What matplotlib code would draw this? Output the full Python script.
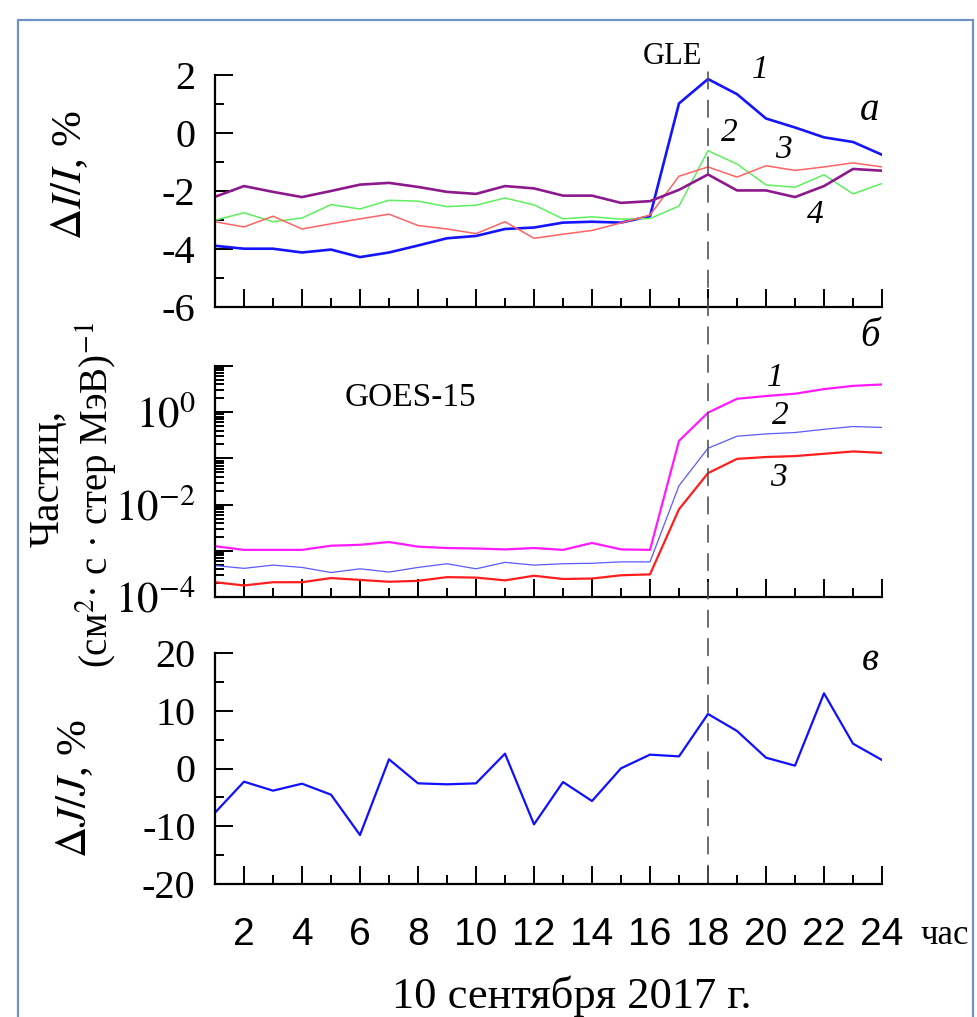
import numpy as np
import matplotlib
matplotlib.use("Agg")
from matplotlib import pyplot as plt
from matplotlib import patches, ticker

plt.rcParams['font.family'] = ['Liberation Serif', 'DejaVu Serif']
plt.rcParams['mathtext.fontset'] = 'stix'
plt.rcParams['axes.unicode_minus'] = False

W, H = 977, 1017

hours = np.arange(1, 25)
GLE_HOUR = 18

# panel a: dI/I, %
dI_1 = [-3.89, -3.99, -3.99, -4.12, -4.02, -4.28, -4.12, -3.88, -3.63, -3.55, -3.31, -3.26,
        -3.09, -3.06, -3.09, -2.87, 1.02, 1.86, 1.34, 0.50, 0.19, -0.15, -0.31, -0.75]
dI_2 = [-3.01, -2.75, -3.06, -2.93, -2.47, -2.62, -2.32, -2.35, -2.54, -2.49, -2.24, -2.48,
        -2.96, -2.89, -2.97, -2.95, -2.52, -0.61, -1.07, -1.79, -1.87, -1.44, -2.10, -1.74]
dI_3 = [-3.06, -3.24, -2.87, -3.31, -3.13, -2.96, -2.80, -3.19, -3.31, -3.47, -3.06, -3.63,
        -3.49, -3.36, -3.10, -2.83, -1.49, -1.17, -1.52, -1.13, -1.29, -1.17, -1.03, -1.17]
dI_4 = [-2.20, -1.83, -2.03, -2.21, -2.00, -1.78, -1.72, -1.86, -2.03, -2.10, -1.83, -1.91,
        -2.16, -2.16, -2.41, -2.35, -1.96, -1.43, -1.98, -1.98, -2.21, -1.83, -1.24, -1.30]

# panel b: GOES-15 flux, log10 values
log_p1 = [-2.90, -2.98, -2.98, -2.98, -2.89, -2.87, -2.81, -2.91, -2.94, -2.95, -2.97, -2.94,
          -2.98, -2.83, -2.97, -2.98, -0.62, -0.01, 0.29, 0.35, 0.40, 0.50, 0.57, 0.60]
log_p2 = [-3.32, -3.38, -3.31, -3.36, -3.47, -3.39, -3.46, -3.36, -3.28, -3.39, -3.25, -3.31,
          -3.28, -3.27, -3.24, -3.24, -1.59, -0.78, -0.52, -0.47, -0.44, -0.37, -0.31, -0.33]
log_p3 = [-3.68, -3.75, -3.68, -3.68, -3.59, -3.63, -3.67, -3.65, -3.57, -3.58, -3.64, -3.54,
          -3.61, -3.60, -3.53, -3.51, -2.10, -1.32, -1.01, -0.97, -0.95, -0.90, -0.85, -0.88]

# panel c: dJ/J, %
dJ = [-7.65, -2.28, -3.84, -2.63, -4.53, -11.52, 1.59, -2.57, -2.74, -2.57, 2.57, -9.67,
      -2.34, -5.63, 0.03, 2.40, 2.10, 9.44, 6.50, 1.87, 0.49, 13.02, 4.30, 1.47]

xtick_labels = [str(h) for h in range(2, 25, 2)]

fig = plt.figure(figsize=(W / 100, H / 100), dpi=100)


def px(x, y):
    return x / W, 1 - y / H


def axes_at(top, bottom, left=215, right=882):
    return fig.add_axes([left / W, 1 - bottom / H, (right - left) / W, (bottom - top) / H])


def style(ax):
    for s in ['top', 'right']:
        ax.spines[s].set_visible(False)
    for s in ['left', 'bottom']:
        ax.spines[s].set_linewidth(1.6)
    ax.set_xlim(1, 24)
    ax.xaxis.set_major_locator(ticker.MultipleLocator(2))
    ax.xaxis.set_minor_locator(ticker.MultipleLocator(1))
    ax.tick_params(which='major', direction='in', length=13, width=1.4, labelsize=29)
    ax.tick_params(which='minor', direction='in', length=6.5, width=1.4)
    ax.tick_params(axis='y', pad=14, labelfontfamily='Liberation Serif')
    ax.patch.set_visible(False)


ax1 = axes_at(75, 307)
ax2 = axes_at(366, 597)
ax3 = axes_at(653, 884)
for ax in (ax1, ax2, ax3):
    style(ax)

# panel a
ax1.plot(hours, dI_1, color='#1414ff', lw=1.9)
ax1.plot(hours, dI_2, color='#5cf05c', lw=1.1)
ax1.plot(hours, dI_3, color='#ff6464', lw=1.1)
ax1.plot(hours, dI_4, color='#8c1a8c', lw=1.9)
ax1.set_ylim(-6, 2)
ax1.yaxis.set_major_locator(ticker.MultipleLocator(2))
ax1.yaxis.set_minor_locator(ticker.MultipleLocator(1))
ax1.tick_params(axis='x', labelbottom=False)

# panel b
ax2.semilogy(hours, 10 ** np.array(log_p1), color='#ff1aff', lw=1.6)
ax2.semilogy(hours, 10 ** np.array(log_p2), color='#5a5aff', lw=0.9)
ax2.semilogy(hours, 10 ** np.array(log_p3), color='#ff1e1e', lw=1.6)
ax2.set_ylim(1e-4, 1e1)
ax2.yaxis.set_major_locator(ticker.LogLocator(base=10, numticks=10))
ax2.yaxis.set_minor_locator(ticker.LogLocator(base=10, subs=np.arange(2, 10), numticks=10))
ax2.yaxis.set_minor_formatter(ticker.NullFormatter())
ax2.yaxis.set_major_formatter(ticker.FuncFormatter(
    lambda v, p: r'$10^{\mathrm{%d}}$' % round(np.log10(v)) if round(np.log10(v)) % 2 == 0 and v < 5 else ''))
ax2.tick_params(axis='x', labelbottom=False)
ax2.tick_params(axis='y', labelsize=31)

# panel c
ax3.plot(hours, dJ, color='#1010ff', lw=1.6)
ax3.set_ylim(-20, 20)
ax3.yaxis.set_major_locator(ticker.MultipleLocator(10))
ax3.yaxis.set_minor_locator(ticker.MultipleLocator(5))
ax3.set_xticks(range(2, 25, 2))
ax3.set_xticklabels(xtick_labels, family='Liberation Sans', fontsize=28)
ax3.tick_params(axis='x', pad=24)

# GLE dashed line across all panels
con = patches.ConnectionPatch(xyA=(GLE_HOUR, 2.1), coordsA=ax1.transData,
                              xyB=(GLE_HOUR, -20), coordsB=ax3.transData,
                              color='#555555', lw=1.2, linestyle=(0, (10, 7)))
fig.add_artist(con)

# frame of the slide
fig.add_artist(patches.Rectangle(px(18, 1030), (973 - 18) / W, 1010 / H,
                                 transform=fig.transFigure, fill=False,
                                 edgecolor='#6f93c8', lw=1.6))

# annotations
def t(x, y, s, size, style='normal', **kw):
    fig.text(*px(x, y), s, fontsize=size, fontstyle=style, ha='center', va='center', **kw)

t(672, 56, 'GLE', 22)
t(760, 70, '1', 24, 'italic')
t(870, 110, 'а', 28, 'italic')
t(729, 133, '2', 24, 'italic')
t(783, 150, '3', 24, 'italic')
t(815, 215, '4', 24, 'italic')

t(870, 336, 'б', 28, 'italic')
t(410, 398, 'GOES-15', 24)
t(775, 378, '1', 24, 'italic')
t(780, 416, '2', 24, 'italic')
t(778, 478, '3', 24, 'italic')

t(870, 661, 'в', 28, 'italic')

t(70, 175, r'$\Delta I/I$, %', 31, rotation=90)
t(48, 478, 'Частиц,', 30, rotation=90)
t(97, 495, r'(см$^2$· с · стер МэВ)$^{\mathrm{-1}}$', 28, rotation=90)
t(75, 788, r'$\Delta J/J$, %', 31, rotation=90)

t(945, 935, 'час', 25)
t(572, 996, '10 сентября 2017 г.', 32)

fig.savefig('out.png', dpi=100)
